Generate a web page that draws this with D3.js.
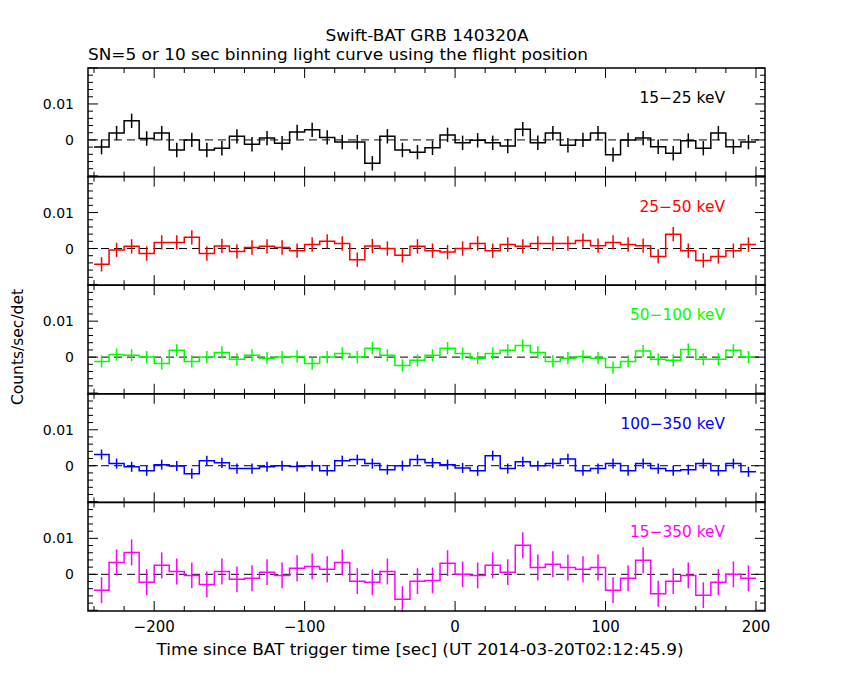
<!DOCTYPE html>
<html><head><meta charset="utf-8">
<script src="https://cdn.jsdelivr.net/npm/d3@7"></script>
<style>body{margin:0;background:#fff} text{font-family:"DejaVu Sans",sans-serif}</style>
</head><body>
<svg id="chart" width="850" height="680"></svg>
<script>
var binStart = -240, binWidth = 10;
var labels = ["15\u221225 keV", "25\u221250 keV", "50\u2212100 keV", "100\u2212350 keV", "15\u2212350 keV"];
var colors = ["#000000", "#ff0000", "#00ff00", "#0000ff", "#ff00ff"];
var errs = [0.002, 0.002, 0.0017, 0.0014, 0.0036];

var band1 = [-0.002,0.0019,0.0053,0.0004,0.0019,-0.0028,0,-0.0028,-0.0023,0.001,-0.0012,0.0005,-0.0009,0.0022,0.0028,0.0007,-0.0006,-0.0006,-0.0065,0.001,-0.0028,-0.0034,
  -0.0022,0.0014,-0.0008,-0.0001,-0.0008,-0.0017,0.003,-0.0008,0.0019,-0.0015,0,0.0019,-0.0041,0,0.0005,-0.0019,-0.0037,-0.0002,-0.0023,0.0019,-0.0019,-0.0006];
var band2 = [-0.0044,-0.0004,0.0006,-0.0014,0.0017,0.0017,0.0031,-0.0014,0.0007,-0.0008,0.0003,0.0006,0.0003,-0.0006,0.0011,0.002,0.0014,-0.0031,0.0007,0,-0.0019,0.0006,
  -0.0006,-0.001,0,0.0014,-0.0006,0.0011,0.0006,0.0014,0.0014,0.0014,0.0022,0.0008,0.0017,0.0011,0.0008,-0.0022,0.004,-0.0006,-0.0033,-0.0022,-0.0006,0.0011];
var band3 = [-0.0012,0.0007,0.0005,0,-0.0018,0.0019,-0.0012,0,0.0013,-0.0006,0.0005,-0.0003,0,0.0002,-0.0018,0,0.001,0,0.0025,0.0005,-0.0023,-0.0009,
  0.0005,0.0025,0.001,-0.0003,0.001,0.0019,0.0032,0.0013,-0.0012,-0.0003,0.0002,-0.0003,-0.0029,-0.0012,0.0017,-0.0006,-0.0009,0.0021,-0.0006,-0.0006,0.0019,0];
var band4 = [0.0031,0.0006,-0.0003,-0.0014,0.0003,-0.0001,-0.0022,0.0014,0.0008,-0.0008,-0.0008,-0.0003,0,-0.0002,0,-0.0014,0.0014,0.0017,0.0006,-0.0011,0,0.0017,
  0.0008,0.0003,-0.0006,-0.0014,0.0028,-0.0008,0.0011,0,0.0006,0.0019,-0.0014,-0.0008,0.0006,-0.0014,0.0006,-0.0008,-0.0014,-0.0011,0.0006,-0.0014,0.0006,-0.0017];
var band5 = [-0.0044,0.0033,0.0061,-0.0022,0.0025,0.0008,-0.0003,-0.0028,0.0008,-0.0014,-0.0011,0.0006,-0.0003,0.0017,0.0022,0.0014,0.0033,-0.0019,-0.0022,0.0008,-0.0069,-0.0019,
  -0.0017,0.0031,0,-0.0003,0.0025,0.0006,0.0081,0.0019,0.0028,0.0019,0.0014,0.0019,-0.0044,-0.0011,0.0039,-0.0054,-0.0019,-0.0003,-0.0058,-0.0022,0,-0.0011];
var series = [band1, band2, band3, band4, band5];

var svg = d3.select("#chart");
var left = 88, right = 765, top0 = 68, bottom = 611;
var ph = (bottom - top0) / 5;
var x = d3.scaleLinear().domain([-244, 206]).range([left, right]);

// text fitted to the reference widths
function label(px, py, str, len, anchor){
  return svg.append("text").attr("x", px).attr("y", py).attr("text-anchor", anchor || "start")
    .attr("font-size", 15).attr("textLength", len).attr("lengthAdjust", "spacingAndGlyphs").text(str);
}
label(427, 41, "Swift-BAT GRB 140320A", 203, "middle");
label(88, 60, "SN=5 or 10 sec binning light curve using the flight position", 500);

series.forEach(function(vals, p){
  var t = top0 + p * ph;
  var y = d3.scaleLinear().domain([-0.0102, 0.02]).range([t + ph, t]);
  var g = svg.append("g");
  var bins = vals.map(function(v, i){ return {t0: binStart + i*binWidth, v: v}; });

  g.append("line").attr("x1", left).attr("x2", right).attr("y1", y(0)).attr("y2", y(0))
    .attr("stroke", "#000").attr("stroke-dasharray", "8,5");

  var pts = [];
  bins.forEach(function(b){ pts.push([x(b.t0), y(b.v)]); pts.push([x(b.t0 + binWidth), y(b.v)]); });
  g.append("path").attr("d", d3.line()(pts)).attr("fill", "none").attr("stroke", colors[p]).attr("stroke-width", 1.5);
  g.selectAll(".err").data(bins).enter().append("line")
    .attr("x1", function(d){ return x(d.t0 + binWidth/2); }).attr("x2", function(d){ return x(d.t0 + binWidth/2); })
    .attr("y1", function(d){ return y(d.v - errs[p]); }).attr("y2", function(d){ return y(d.v + errs[p]); })
    .attr("stroke", colors[p]).attr("stroke-width", 1.5);

  g.append("rect").attr("x", left).attr("y", t).attr("width", right-left).attr("height", ph)
    .attr("fill", "none").attr("stroke", "#000").attr("stroke-width", 1.5);

  d3.range(-240, 201, 20).forEach(function(v){
    var len = v % 100 === 0 ? 10 : 5;
    g.append("line").attr("x1", x(v)).attr("x2", x(v)).attr("y1", t+ph).attr("y2", t+ph-len).attr("stroke", "#000");
    g.append("line").attr("x1", x(v)).attr("x2", x(v)).attr("y1", t).attr("y2", t+len).attr("stroke", "#000");
  });
  d3.range(-10, 21, 2).forEach(function(k){
    var v = k/1000, len = k % 10 === 0 ? 10 : 5;
    g.append("line").attr("x1", left).attr("x2", left+len).attr("y1", y(v)).attr("y2", y(v)).attr("stroke", "#000");
    g.append("line").attr("x1", right).attr("x2", right-len).attr("y1", y(v)).attr("y2", y(v)).attr("stroke", "#000");
  });
  [0, 0.01].forEach(function(v){
    g.append("text").attr("x", 74).attr("y", y(v)+5).attr("text-anchor", "end").attr("font-size", 14)
      .text(v === 0 ? "0" : "0.01");
  });
  label(725, t+35, labels[p], labels[p].length * 9.5, "end").attr("fill", colors[p]);
});

[-200, -100, 0, 100, 200].forEach(function(v){
  svg.append("text").attr("x", x(v)).attr("y", 632).attr("text-anchor", "middle").attr("font-size", 15)
    .text(v < 0 ? "\u2212" + (-v) : v);
});
label(420, 655, "Time since BAT trigger time [sec] (UT 2014-03-20T02:12:45.9)", 527, "middle");
label(0, 0, "Counts/sec/det", 116, "middle").attr("transform", "translate(23,347) rotate(-90)");
</script>
</body></html>
